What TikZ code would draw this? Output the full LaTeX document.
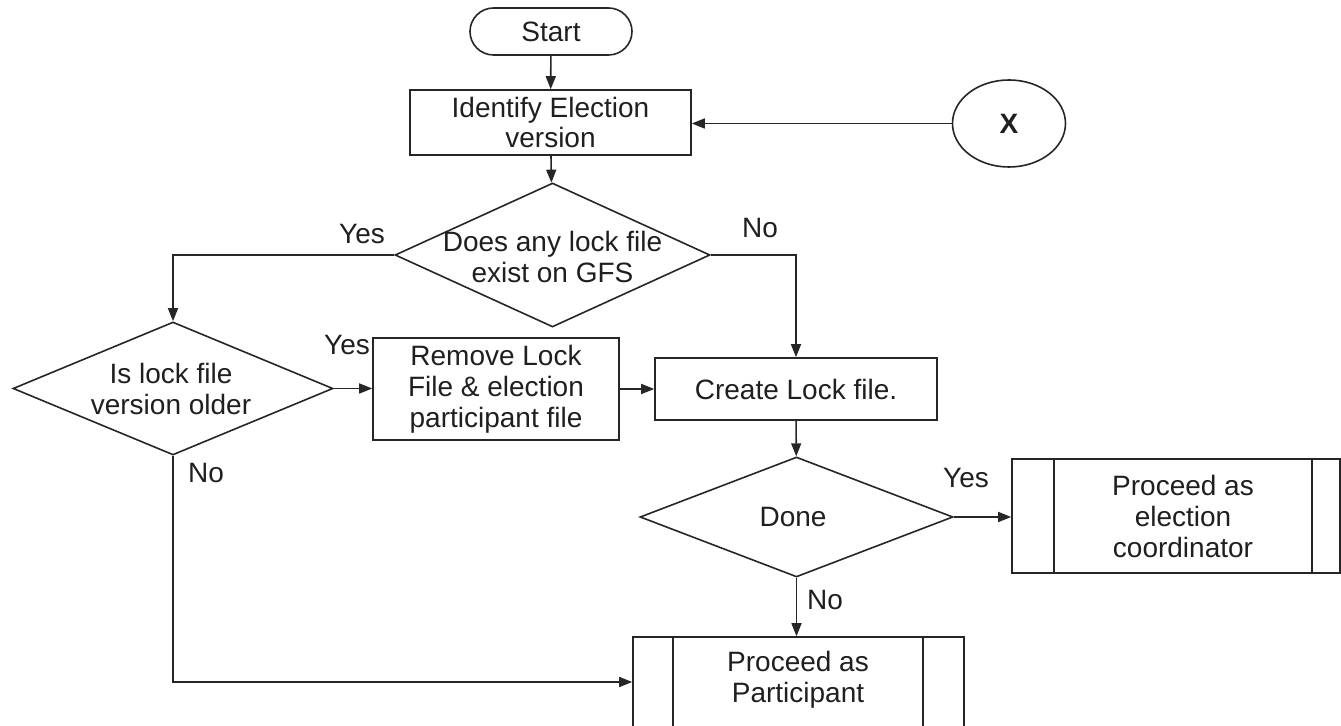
\documentclass[tikz,border=0pt]{standalone}
\usepackage{fontspec}
\setmainfont{Liberation Sans}
\usetikzlibrary{arrows.meta,shapes.geometric}
\begin{document}
\begin{tikzpicture}[x=0.5pt,y=-0.5pt,
  every node/.style={font=\fontsize{14}{15.5}\selectfont, text=black!88, align=center},
  line/.style={draw=black!85, line width=0.8pt},
  arr/.style={line, -{Triangle[length=6.5pt,width=5pt]}},
  box/.style={line, rectangle, inner sep=0pt},
  decision/.style={line, diamond, inner sep=0pt, aspect=2},
  lbl/.style={inner sep=0pt}
]
\useasboundingbox (0,0) rectangle (1341,726);
\clip (0,0) rectangle (1341,726);

% terminator and first step
\node[box, rounded corners=11.75pt, minimum width=81pt, minimum height=23.5pt] (start) at (551,31.5) {Start};
\node[box, minimum width=140.5pt, minimum height=32.5pt] (ident) at (550.5,122.5) {Identify Election\\version};
\node[line, ellipse, inner sep=0pt, minimum width=56.5pt, minimum height=43.5pt] (x) at (1009,123.5) {\bfseries X};

% first decision
\node[decision, minimum width=157.5pt, minimum height=72pt] (d1) at (552.5,255) {};
\node[lbl] (d1t) at (552.5,257) {Does any lock file\\exist on GFS};

% second decision
\node[decision, minimum width=160pt, minimum height=66.5pt] (d2) at (173,388.5) {};
\node[lbl] (d2t) at (171,389) {Is lock file\\version older};

% actions
\node[box, minimum width=123pt, minimum height=51pt] (remove) at (496,389) {Remove Lock\\File \& election\\participant file};
\node[box, minimum width=141pt, minimum height=31pt] (create) at (796,389) {Create Lock file.};

% completion check
\node[decision, minimum width=156.5pt, minimum height=60pt] (done) at (796.5,517) {};
\node[lbl] (donet) at (793,517) {Done};

% predefined processes
\node[box, minimum width=164pt, minimum height=57pt] (elect) at (1176,516) {};
\draw[line] ([xshift=21.5pt]elect.north west) -- ([xshift=21.5pt]elect.south west);
\draw[line] ([xshift=-14.5pt]elect.north east) -- ([xshift=-14.5pt]elect.south east);
\node[lbl] (electt) at (1183,516) {\fontsize{14}{17}\selectfont Proceed as\\election\\coordinator};

\node[box, minimum width=165.5pt, minimum height=45pt] (part) at (798.5,682) {};
\draw[line] ([xshift=20.5pt]part.north west) -- ([xshift=20.5pt]part.south west);
\draw[line] ([xshift=-21pt]part.north east) -- ([xshift=-21pt]part.south east);
\node[lbl] (partt) at (798,680) {\fontsize{14}{17}\selectfont Proceed as\\Participant};

% connectors
\draw[arr] (start) -- (ident);
\draw[arr] (x.west) -- (x.west -| ident.east);
\draw[arr] (ident) -- (d1);
\draw[arr] (d1.west) -| (d2.north);
\draw[arr] (d1.east) -| (create.north);
\draw[arr] (d2.east) -- (d2.east -| remove.west);
\draw[arr] (remove) -- (create);
\draw[arr] (create) -- (done);
\draw[arr] (done.east) -- (done.east -| elect.west);
\draw[arr] (done.south) -- (done.south |- part.north);
\draw[arr] (d2.south) |- (part.west);

% branch labels
\node[lbl] (y1) at (362,234) {Yes};
\node[lbl] (n1) at (760,228) {No};
\node[lbl] (y2) at (347,345) {Yes};
\node[lbl] (n2) at (206,473) {No};
\node[lbl] (y3) at (966,478) {Yes};
\node[lbl] (n3) at (825,600) {No};
\end{tikzpicture}
\end{document}
